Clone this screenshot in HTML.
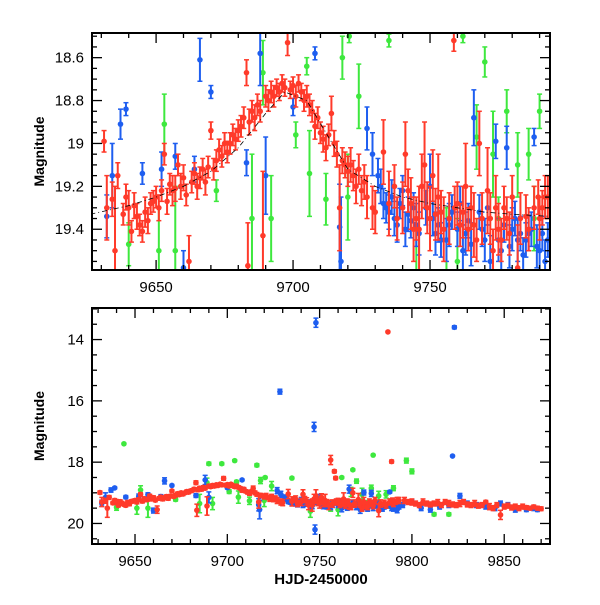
<!DOCTYPE html>
<html><head><meta charset="utf-8"><style>
html,body{margin:0;padding:0;background:#fff;}
svg text{font-family:"Liberation Sans",sans-serif;fill:#000;}
</style></head><body>
<svg id="chart" width="600" height="600" viewBox="0 0 600 600"></svg>
<script>
// ---- data ----
const redDays=[9631,9632,9634,9635,9636,9638,9639,9640,9641,9642,9643,9644,9645,9646,9647,9648,9649,9650,9651,9652,9653,9654,9655,9656,9657,9658,9659,9660,9661,9662,9663,9664,9665,9666,9667,9668,9669,9670,9671,9672,9673,9674,9675,9676,9677,9678,9679,9680,9681,9682,9683,9683.5,9684,9685,9686,9687,9688,9689,9690,9691,9692,9693,9694,9695,9696,9697,9698,9699,9700,9701,9702,9703,9704,9705,9706,9707,9708,9709,9710,9711,9712,9713,9714,9715,9716,9717,9718,9719,9720,9721,9722,9723,9724,9725,9726,9727,9729,9730,9733,9735,9737,9738,9740,9742,9743,9745,9746,9747,9749,9751,9752,9754,9755,9756,9757,9758,9758.7,9759,9760,9761,9762,9764,9765,9767,9769,9771,9773,9775,9777,9779,9782,9785,9787,9789,9789.5,9791,9792,9796,9798,9800,9802,9804,9806,9808,9810,9812,9814,9816,9818,9820,9822,9824,9826,9828,9830,9832,9834,9836,9838,9840,9842,9844,9846,9848,9850,9852,9854,9856,9858,9860,9862,9864,9866,9868,9870];
const redMags=[18.99,19.30,19.26,19.50,19.15,19.33,19.25,19.30,19.41,19.29,19.34,19.38,19.41,19.32,19.36,19.28,19.27,19.25,19.30,19.22,19.05,19.27,19.19,19.22,19.21,19.10,19.20,19.16,19.24,19.55,19.18,19.14,19.20,19.16,19.12,19.18,19.11,18.94,19.12,19.08,19.03,19.06,19.00,19.04,19.00,18.96,18.98,18.94,18.92,18.88,18.67,19.57,18.90,18.85,18.88,18.82,18.85,19.43,18.78,18.80,18.76,18.78,18.74,18.76,18.72,18.74,18.53,18.75,18.73,18.78,18.72,18.76,18.80,18.78,18.82,18.85,18.92,18.88,18.95,18.98,19.02,18.96,18.86,19.00,19.05,19.30,19.08,19.10,19.13,19.10,19.15,19.20,19.12,19.22,19.18,19.25,19.30,19.32,19.04,19.28,19.20,19.35,19.30,19.22,19.28,19.35,19.40,19.20,19.30,19.15,19.33,19.32,19.40,17.93,19.35,18.30,18.52,19.30,19.28,19.38,19.32,19.40,19.30,19.45,19.35,19.22,19.50,19.40,19.30,19.42,19.58,19.34,13.75,17.98,19.25,19.30,19.25,19.25,19.30,19.30,19.35,19.40,19.30,19.35,19.38,19.35,19.32,19.40,19.30,19.35,19.38,19.40,19.35,19.30,19.38,19.40,19.35,19.42,19.40,19.30,19.45,19.50,19.40,19.72,19.45,19.42,19.48,19.45,19.50,19.45,19.48,19.50,19.46,19.50,19.52];
const redErrs=[.05,.15,.08,.3,.06,.05,.06,.08,.05,.06,.06,.05,.05,.07,.06,.05,.05,.05,.06,.05,.05,.06,.05,.07,.06,.05,.06,.06,.05,.12,.05,.05,.06,.05,.05,.06,.05,.04,.05,.05,.05,.05,.05,.05,.05,.05,.05,.05,.05,.05,.06,.2,.06,.05,.06,.05,.05,.3,.05,.05,.05,.05,.04,.04,.04,.04,.06,.04,.04,.05,.04,.04,.05,.05,.05,.05,.06,.05,.05,.06,.06,.05,.08,.06,.06,.2,.06,.06,.07,.08,.07,.08,.07,.07,.08,.1,.1,.1,.15,.15,.1,.1,.12,.1,.12,.1,.2,.15,.12,.12,.12,.1,.15,.15,.12,.05,.05,.1,.1,.1,.12,.1,.1,.1,.12,.2,.1,.12,.1,.1,.2,.1,.02,.05,.08,.08,.1,.1,.08,.1,.08,.08,.1,.08,.08,.08,.1,.08,.08,.1,.08,.08,.1,.08,.08,.08,.1,.08,.08,.05,.1,.08,.08,.15,.08,.08,.08,.08,.08,.08,.06,.06,.06,.06,.06];
const redDays2=[9741,9744,9748,9750,9753,9763,9766,9768,9772,9774,9776,9778,9780,9783,9786,9788,9790,9793];
const redMags2=[19.05,19.40,19.10,19.35,19.25,19.20,19.38,19.00,19.35,19.30,19.45,19.35,19.25,19.35,19.40,19.30,19.35,19.25];
const redErrs2=[.15,.15,.2,.15,.2,.2,.15,.15,.12,.15,.1,.1,.1,.12,.1,.1,.1,.1];
const blueDays=[9632,9634,9637,9639,9645,9652,9657,9660,9664,9666,9670,9683,9688,9690,9700,9708,9717,9717.5,9727,9728.5,9729,9732,9734,9736,9738,9740,9742,9745,9747,9747.5,9748,9748.5,9750,9752,9754,9757,9760,9762,9765,9766,9768,9770,9772,9774,9776,9778,9780,9782,9784,9786,9788,9790,9792,9800,9810,9820,9822,9823,9826,9830,9840,9848,9856,9862,9868];
const blueMags=[19.34,19.15,18.91,18.84,19.14,19.12,19.06,19.58,19.12,18.61,18.76,19.09,18.58,19.15,18.83,18.58,19.39,19.55,18.93,15.70,19.05,19.20,19.30,19.25,19.38,19.22,19.33,19.38,16.85,20.20,13.45,19.30,19.20,19.42,19.45,19.38,19.40,19.50,19.47,18.88,19.32,19.45,19.55,18.99,19.50,19.02,19.40,19.45,19.52,19.42,18.97,19.50,19.55,19.30,19.55,19.40,17.80,13.60,19.10,19.35,19.45,19.35,19.55,19.55,19.55];
const blueErrs=[.1,.15,.07,.03,.05,.08,.06,.08,.06,.1,.03,.06,.15,.18,.04,.03,.2,.3,.1,.08,.1,.08,.07,.08,.08,.07,.08,.1,.15,.15,.15,.08,.15,.1,.08,.1,.08,.12,.1,.13,.08,.1,.12,.08,.1,.1,.1,.1,.08,.08,.04,.1,.1,.08,.08,.08,.02,.05,.08,.08,.08,.08,.08,.06,.06];
const blueDays2=[9731,9733,9735,9737,9739,9741,9743,9744,9746,9751,9753,9756,9758,9761,9763,9764,9769,9771,9775,9777,9779,9781,9783,9785,9787,9789,9791,9793,9795,9805,9815,9835,9845,9852,9866];
const blueMags2=[19.15,19.28,19.32,19.35,19.28,19.40,19.36,19.30,19.42,19.35,19.38,19.45,19.32,19.28,19.42,19.36,19.40,19.30,19.45,19.38,19.48,19.35,19.42,19.45,19.40,19.48,19.42,19.45,19.40,19.50,19.45,19.40,19.50,19.40,19.50];
const blueErrs2=[.08,.07,.08,.08,.07,.08,.08,.07,.1,.08,.08,.1,.08,.08,.1,.08,.08,.08,.1,.08,.1,.08,.08,.08,.08,.1,.08,.08,.08,.08,.08,.08,.08,.08,.08];
const greenDays=[9640,9644,9651,9653,9657,9672,9685,9689,9690,9692,9697,9701,9704,9705,9706,9712,9716,9718,9720,9720.5,9724,9735,9745,9756,9760,9762,9767,9768,9770,9773,9775,9778,9779,9782,9786,9788,9790,9797,9800,9812,9820];
const greenMags=[19.47,17.40,19.50,18.91,19.50,19.22,19.35,18.67,18.05,19.35,18.05,18.96,17.95,18.64,19.14,19.26,18.10,18.60,19.25,18.50,18.78,18.52,19.60,19.45,19.55,18.50,18.97,18.25,18.62,19.05,19.35,18.85,17.77,19.10,19.05,19.35,18.85,17.95,18.30,19.70,19.70];
const greenErrs=[.1,.02,.2,.14,.3,.05,.3,.15,.05,.2,.04,.06,.03,.04,.2,.12,.05,.1,.2,.03,.15,.03,.2,.15,.2,.03,.15,.03,.07,.2,.1,.1,.02,.15,.12,.15,.08,.08,.08,.05,.05];
const modelDays=[9626,9640,9650,9660,9670,9680,9690,9697,9705,9712,9720,9730,9740,9750,9760,9770,9780,9794];
const modelMags=[19.33,19.29,19.25,19.20,19.13,19.02,18.86,18.76,18.80,18.95,19.12,19.20,19.25,19.28,19.30,19.32,19.33,19.34];
const topXTicks=[9650,9700,9750];
const topYTicks=[18.6,18.8,19,19.2,19.4];
const botXTicks=[9650,9700,9750,9800,9850];
const botYTicks=[14,16,18,20];

const NS="http://www.w3.org/2000/svg";
const svg=document.getElementById('chart');
function mk(tag,attrs,parent){const e=document.createElementNS(NS,tag);for(const k in attrs)e.setAttribute(k,attrs[k]);(parent||svg).appendChild(e);return e;}

function panel(cfg){
  const {x0,x1,y0,y1,L,R,T,B,id}=cfg;
  const sx=d=>L+(d-x0)/(x1-x0)*(R-L);
  const sy=m=>T+(m-y0)/(y1-y0)*(B-T);
  const g=mk('g',{});
  
  
  const clip=mk('clipPath',{id:id+'-clip'},g);
  mk('rect',{x:L,y:T,width:R-L,height:B-T},clip);
  const plot=mk('g',{'clip-path':'url(#'+id+'-clip)'},g);
  
  
  function series(days,mags,errs,color,name){
    const sg=mk('g',{},plot);
    
    
    for(let i=0;i<days.length;i++){
      const x=sx(days[i]),y=sy(mags[i]),ya=sy(mags[i]-errs[i]),yb=sy(mags[i]+errs[i]);
      mk('line',{x1:x,x2:x,y1:ya,y2:yb,stroke:color,'stroke-width':2},sg);
      mk('line',{x1:x-2.5,x2:x+2.5,y1:ya,y2:ya,stroke:color,'stroke-width':1.5},sg);
      mk('line',{x1:x-2.5,x2:x+2.5,y1:yb,y2:yb,stroke:color,'stroke-width':1.5},sg);
      const c=mk('circle',{cx:x,cy:y,r:2.8,fill:color},sg);
      
      
    }
  }
  series(greenDays,greenMags,greenErrs,'#3ee83e','green');
  series(blueDays,blueMags,blueErrs,'#1e5ef0','blue');
  series(blueDays2,blueMags2,blueErrs2,'#1e5ef0','blue-extra');
  series(redDays,redMags,redErrs,'#ff3a2a','red');
  series(redDays2,redMags2,redErrs2,'#ff3a2a','red-extra');
  if(cfg.model){
    const pts=modelDays.map((d,i)=>sx(d)+','+sy(modelMags[i])).join(' ');
    const pl=mk('polyline',{points:pts,fill:'none',stroke:'#000','stroke-width':0.8,'stroke-dasharray':'5,3,1,3'},plot);
    
    
  }
  const fr=mk('rect',{x:L,y:T,width:R-L,height:B-T,fill:'none',stroke:'#000','stroke-width':2},g);
  
  
  const tk=mk('g',{stroke:'#000','stroke-width':1.3},g);
  for(let d=Math.ceil(x0/cfg.xm)*cfg.xm;d<=x1;d+=cfg.xm){
    const x=sx(d),major=Math.abs(d/cfg.xM-Math.round(d/cfg.xM))<1e-6,len=major?10:5;
    mk('line',{x1:x,x2:x,y1:B,y2:B-len},tk);mk('line',{x1:x,x2:x,y1:T,y2:T+len},tk);
  }
  for(let k=Math.ceil(y0/cfg.ym-1e-6);k*cfg.ym<=y1+1e-9;k++){
    const m=k*cfg.ym,y=sy(m),major=Math.abs(m/cfg.yM-Math.round(m/cfg.yM))<1e-6,len=major?10:5;
    mk('line',{x1:L,x2:L+len,y1:y,y2:y},tk);mk('line',{x1:R,x2:R-len,y1:y,y2:y},tk);
  }
  cfg.xt.forEach(d=>{const t=mk('text',{x:sx(d),y:B+22,'text-anchor':'middle','font-size':15},g);t.textContent=d;
    });
  cfg.yt.forEach(m=>{const t=mk('text',{x:L-8,y:sy(m)+5,'text-anchor':'end','font-size':15},g);t.textContent=m;
    });
  const yl=mk('text',{x:0,y:0,'text-anchor':'middle','font-size':14,'font-weight':'bold',transform:'translate(44,'+((T+B)/2)+') rotate(-90)'},g);
  yl.textContent='Magnitude';
  
  
}
panel({id:'top',x0:9626.6,x1:9793.8,y0:18.485,y1:19.59,L:92,R:550,T:33,B:270,xm:10,xM:50,ym:0.05,yM:0.2,xt:topXTicks,yt:topYTicks,model:true});
panel({id:'bottom',x0:9626.7,x1:9874.8,y0:12.97,y1:20.67,L:92,R:550,T:308,B:544,xm:10,xM:50,ym:0.5,yM:2,xt:botXTicks,yt:botYTicks,model:false});
const xl=mk('text',{x:321,y:584,'text-anchor':'middle','font-size':15,'font-family':'Liberation Mono, monospace','font-weight':'bold'});
xl.textContent='HJD-2450000';


</script>
</body></html>
